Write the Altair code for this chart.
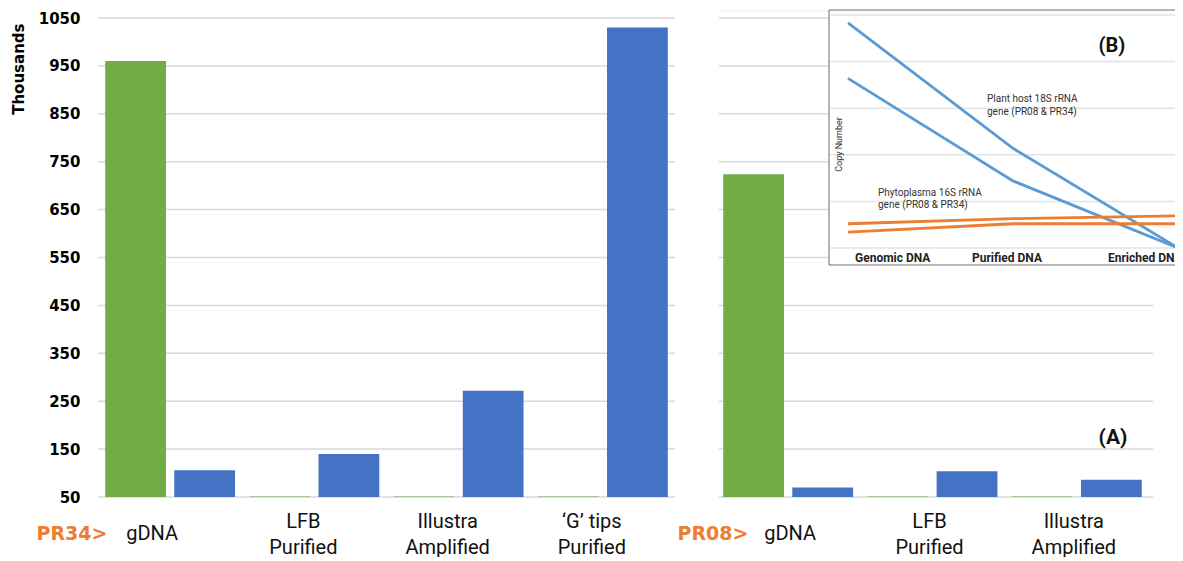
import altair as alt
import pandas as pd

# ---------------- data: panel (A) ----------------
groups_pr34 = ["gDNA", "LFB Purified", "Illustra Amplified", "\u2018G\u2019 tips Purified"]
groups_pr08 = ["gDNA", "LFB Purified", "Illustra Amplified"]
series = ["Plant host 18S rRNA", "Phytoplasma 16S rRNA"]
series_colors = ["#70AD47", "#4472C4"]
pr34_host = [960, 51, 51, 51]
pr34_phyto = [106, 140, 272, 1030]
pr08_host = [724, 51, 51]
pr08_phyto = [70, 104, 86]
y_ticks = [50, 150, 250, 350, 450, 550, 650, 750, 850, 950, 1050]

# ---------------- data: inset (B) ----------------
stages = ["Genomic DNA", "Purified DNA", "Enriched DNA"]
host_line_1 = [4.83, 2.14, 0.0]
host_line_2 = [3.64, 1.44, 0.0]
phyto_line_1 = [0.52, 0.63, 0.69]
phyto_line_2 = [0.34, 0.52, 0.52]
inset_ticks = [0, 1, 2, 3, 4, 5]
inset_genes = ["Plant host 18S rRNA gene", "Phytoplasma 16S rRNA gene"]
inset_colors = ["#5B9BD5", "#ED7D31"]

label_host = ["Plant host 18S rRNA", "gene (PR08 & PR34)"]
label_phyto = ["Phytoplasma 16S rRNA", "gene (PR08 & PR34)"]

GRID = "#d9d9d9"
Y_DOMAIN = [50, 1050]

df34 = pd.DataFrame({
    "group": groups_pr34 * 2,
    "series": [series[0]] * len(groups_pr34) + [series[1]] * len(groups_pr34),
    "value": pr34_host + pr34_phyto,
})
df08 = pd.DataFrame({
    "group": groups_pr08 * 2,
    "series": [series[0]] * len(groups_pr08) + [series[1]] * len(groups_pr08),
    "value": pr08_host + pr08_phyto,
})
df_ticks = pd.DataFrame({"t": y_ticks})

rows = []
for name, gene, vals in [("h1", inset_genes[0], host_line_1), ("h2", inset_genes[0], host_line_2),
                         ("p1", inset_genes[1], phyto_line_1), ("p2", inset_genes[1], phyto_line_2)]:
    for s, v in zip(stages, vals):
        rows.append({"line": name, "gene": gene, "stage": s, "copies": v})
df_lines = pd.DataFrame(rows)
df_inset_ticks = pd.DataFrame({"t": inset_ticks})

label_expr = ("indexof(datum.label, ' ') < 0 ? datum.label : "
              "[slice(datum.label, 0, lastindexof(datum.label, ' ')), "
              "slice(datum.label, lastindexof(datum.label, ' ') + 1)]")
single_test = "indexof(datum.label, ' ') < 0"


def yscale():
    return alt.Scale(domain=Y_DOMAIN, zero=False, nice=False)


def x_axis(title, title_x, offset_single, offset_multi):
    return alt.Axis(orient="bottom", domain=False, ticks=False, grid=False,
                    labelExpr=label_expr, labelFont="Roboto", labelFontSize=20,
                    labelColor="#111", labelLineHeight=26, labelBaseline="middle",
                    labelPadding={"condition": {"test": single_test, "value": 36}, "value": 24},
                    labelOffset={"condition": {"test": single_test, "value": offset_single},
                                 "value": offset_multi},
                    labelAngle=0, labelOverlap=False,
                    title=title, titleFont="DejaVu Sans", titleFontWeight="bold",
                    titleFontSize=19, titleColor="#ED7D31", titleX=title_x, titleY=36,
                    titleAlign="left", titleBaseline="middle")


color_scale = alt.Scale(domain=series, range=series_colors)

# gridlines of panel A
grid_left = alt.Chart(df_ticks).mark_rule(color=GRID, strokeWidth=1.5).encode(
    y=alt.Y("t:Q", scale=yscale(), axis=None),
    x=alt.value(0), x2=alt.value(577))
grid_right = alt.Chart(df_ticks).mark_rule(color=GRID, strokeWidth=1.5).encode(
    y=alt.Y("t:Q", scale=yscale(), axis=None),
    x=alt.value(621), x2=alt.value(1055))
top_right = alt.Chart(pd.DataFrame({"a": [0]})).mark_rule(color="#eeeeee", strokeWidth=1).encode(
    x=alt.value(621), x2=alt.value(731), y=alt.value(-7))

bars_left = alt.Chart(df34).mark_bar().encode(
    x=alt.X("group:N", sort=groups_pr34,
            scale=alt.Scale(domain=groups_pr34, range=[0, 577], paddingInner=0.1, paddingOuter=0.05),
            axis=x_axis("PR34>", -62, -18, -11)),
    xOffset=alt.XOffset("series:N", sort=series, scale=alt.Scale(domain=series, paddingInner=0.12)),
    y=alt.Y("value:Q", scale=yscale(),
            axis=alt.Axis(values=y_ticks, format="d", grid=False, domain=False, ticks=False,
                          labelFont="DejaVu Sans", labelFontWeight="bold", labelFontSize=15,
                          labelColor="#000", labelPadding=18,
                          title="Thousands", titleFont="DejaVu Sans", titleFontSize=15,
                          titleFontWeight="bold", titleColor="#000", titleAngle=270,
                          titleX=-80, titleY=5, titleAlign="right", titleBaseline="middle")),
    y2=alt.datum(50),
    color=alt.Color("series:N", scale=color_scale, legend=None),
)

bars_right = alt.Chart(df08).mark_bar().encode(
    x=alt.X("group:N", sort=groups_pr08,
            scale=alt.Scale(domain=groups_pr08, range=[618, 1051], paddingInner=0.1, paddingOuter=0.05),
            axis=x_axis("PR08>", 579, 2, -3)),
    xOffset=alt.XOffset("series:N", sort=series, scale=alt.Scale(domain=series, paddingInner=0.12)),
    y=alt.Y("value:Q", scale=yscale(), axis=None),
    y2=alt.datum(50),
    color=alt.Color("series:N", scale=color_scale, legend=None),
)

label_a = alt.Chart(pd.DataFrame({"t": ["(A)"]})).mark_text(
    font="Roboto", fontWeight="bold", fontSize=21, color="#111", align="center", baseline="middle"
).encode(x=alt.value(1015), y=alt.value(420), text="t:N")

# ---------------- inset (B) ----------------
inset_box = alt.Chart(pd.DataFrame({"a": [0]})).mark_rect(fill="white").encode(
    x=alt.value(731), x2=alt.value(1110), y=alt.value(-8), y2=alt.value(247))
box_left = alt.Chart(pd.DataFrame({"a": [0]})).mark_rule(color="#6f6f6f", strokeWidth=1).encode(
    x=alt.value(731), y=alt.value(-8), y2=alt.value(247))
box_top = alt.Chart(pd.DataFrame({"a": [0]})).mark_rule(color="#6f6f6f", strokeWidth=1).encode(
    x=alt.value(731), x2=alt.value(1110), y=alt.value(-8))
box_bottom = alt.Chart(pd.DataFrame({"a": [0]})).mark_rule(color="#6f6f6f", strokeWidth=1).encode(
    x=alt.value(731), x2=alt.value(1110), y=alt.value(247))

iy = alt.Scale(domain=[0, 5], range=[230, -3], zero=False, nice=False)
ix = alt.Scale(domain=stages, range=[750, 1080], padding=0)

inset_grid = alt.Chart(df_inset_ticks).mark_rule(color="#e3e3e3", strokeWidth=1.5).encode(
    y=alt.Y("t:Q", scale=iy, axis=None),
    x=alt.value(732), x2=alt.value(1110))

inset_lines = alt.Chart(df_lines).mark_line(strokeWidth=2.8).encode(
    x=alt.X("stage:N", sort=stages, scale=ix, axis=None),
    y=alt.Y("copies:Q", scale=iy, axis=None),
    color=alt.Color("gene:N", scale=alt.Scale(domain=inset_genes, range=inset_colors), legend=None),
    detail="line:N",
)


def stage_label(stage, dx):
    return alt.Chart(pd.DataFrame({"stage": [stage]})).mark_text(
        font="Roboto", fontWeight="bold", fontSize=12, color="#222", align="left",
        baseline="middle", dx=dx
    ).encode(x=alt.X("stage:N", sort=stages, scale=ix, axis=None), y=alt.value(239.5), text="stage:N")


lab_gen = stage_label(stages[0], 7)
lab_pur = stage_label(stages[1], -41)
lab_enr = stage_label(stages[2], -70)

txt_b = alt.Chart(pd.DataFrame({"t": ["(B)"]})).mark_text(
    font="Roboto", fontWeight="bold", fontSize=20, color="#111", align="center", baseline="middle"
).encode(x=alt.value(1014), y=alt.value(28), text="t:N")

txt_host = alt.Chart(pd.DataFrame({"a": [0]})).mark_text(
    text=label_host, font="Roboto", fontSize=10, color="#333", align="left",
    baseline="middle", lineHeight=13
).encode(x=alt.value(889), y=alt.value(81))

txt_phyto = alt.Chart(pd.DataFrame({"a": [0]})).mark_text(
    text=label_phyto, font="Roboto", fontSize=10, color="#333", align="left",
    baseline="middle", lineHeight=12.5
).encode(x=alt.value(780), y=alt.value(174.5))

txt_copy = alt.Chart(pd.DataFrame({"t": ["Copy Number"]})).mark_text(
    font="Roboto", fontSize=9, color="#333", align="center", baseline="middle", angle=270
).encode(x=alt.value(741), y=alt.value(126.5), text="t:N")

chart = alt.layer(
    grid_left, grid_right, top_right, bars_left, bars_right, label_a,
    inset_box, inset_grid, box_left, box_top, box_bottom, inset_lines,
    lab_gen, lab_pur, lab_enr, txt_b, txt_host, txt_phyto, txt_copy,
).resolve_scale(
    x="independent", y="independent", xOffset="independent", color="independent"
).properties(
    width=1077, height=479,
    padding={"left": 90, "top": 10, "right": 0, "bottom": 60},
    autosize=alt.AutoSizeParams(type="none"),
    background="white",
).configure_view(stroke=None)

chart.save("out.html", embed_options={"renderer": "svg", "actions": False})
